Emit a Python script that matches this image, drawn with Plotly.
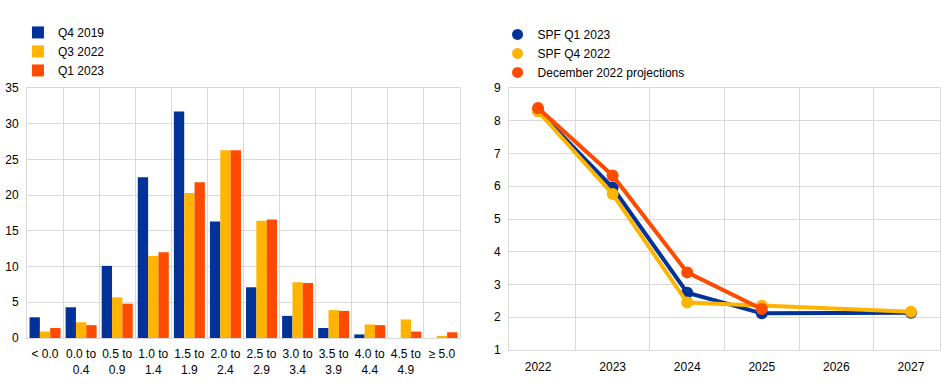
import plotly.graph_objects as go

bins = ["< 0.0", "0.0 to<br>0.4", "0.5 to<br>0.9", "1.0 to<br>1.4", "1.5 to<br>1.9", "2.0 to<br>2.4",
        "2.5 to<br>2.9", "3.0 to<br>3.4", "3.5 to<br>3.9", "4.0 to<br>4.4", "4.5 to<br>4.9", "≥ 5.0"]
q4_2019 = [2.9, 4.3, 10.1, 22.5, 31.7, 16.3, 7.1, 3.1, 1.4, 0.5, 0.0, 0.0]
q3_2022 = [0.9, 2.2, 5.7, 11.5, 20.3, 26.3, 16.4, 7.8, 3.9, 1.9, 2.6, 0.3]
q1_2023 = [1.4, 1.8, 4.8, 12.0, 21.8, 26.3, 16.6, 7.7, 3.8, 1.8, 0.9, 0.8]

years = ["2022", "2023", "2024", "2025", "2026", "2027"]
spf_q1_2023 = [8.3, 5.96, 2.75, 2.12, None, 2.14]
spf_q4_2022 = [8.29, 5.76, 2.45, 2.35, None, 2.17]
dec_2022_proj = [8.39, 6.33, 3.37, 2.25, None, None]

BLUE = "#003299"
YELLOW = "#FFB400"
ORANGE = "#FF4B00"
GRID = "#d9d9d9"
FONT = dict(family="Liberation Sans, Arial, sans-serif", size=12, color="#000000")

fig = go.Figure()
for name, vals, col in [("Q4 2019", q4_2019, BLUE), ("Q3 2022", q3_2022, YELLOW), ("Q1 2023", q1_2023, ORANGE)]:
    fig.add_trace(go.Bar(x=bins, y=vals, name=name, marker=dict(color=col, line=dict(width=0)),
                         xaxis="x", yaxis="y", legend="legend"))

for name, vals, col in [("SPF Q1 2023", spf_q1_2023, BLUE), ("SPF Q4 2022", spf_q4_2022, YELLOW),
                        ("December 2022 projections", dec_2022_proj, ORANGE)]:
    fig.add_trace(go.Scatter(x=years, y=vals, name=name, mode="lines+markers", connectgaps=True,
                             line=dict(color=col, width=4), marker=dict(color=col, size=12),
                             xaxis="x2", yaxis="y2", showlegend=False))
    # legend entry showing only the circle marker
    fig.add_trace(go.Scatter(x=[None], y=[None], name=name, mode="markers",
                             marker=dict(color=col, size=11), xaxis="x2", yaxis="y2", legend="legend2"))

axis_common = dict(showline=True, linecolor=GRID, linewidth=1, mirror=True, gridcolor=GRID, gridwidth=1,
                   zeroline=False, ticks="", tickfont=FONT, automargin=False, tickangle=0)

fig.update_layout(
    width=945, height=390,
    margin=dict(l=0, r=0, t=0, b=0),
    paper_bgcolor="white", plot_bgcolor="white",
    font=FONT,
    barmode="group", bargap=0.14, bargroupgap=0,
    xaxis=dict(domain=[27/945, 460/945], type="category", tickson="boundaries", showgrid=True, anchor="y",
               ticklabelstandoff=5, **axis_common),
    yaxis=dict(domain=[52/390, 302/390], range=[0, 35], dtick=5, showgrid=True, anchor="x",
               ticklabelstandoff=5, **axis_common),
    xaxis2=dict(domain=[509/945, 940/945], type="category", tickson="boundaries", showgrid=True, anchor="y2",
                ticklabelstandoff=6, **axis_common),
    yaxis2=dict(domain=[40/390, 302/390], range=[1, 9], dtick=1, showgrid=True, anchor="x2",
                ticklabelstandoff=5, **axis_common),
    legend=dict(x=0.019, y=0.954, xanchor="left", yanchor="top", bgcolor="rgba(0,0,0,0)",
                font=FONT, tracegroupgap=0),
    legend2=dict(x=0.5265, y=0.949, xanchor="left", yanchor="top", bgcolor="rgba(0,0,0,0)",
                 font=FONT, tracegroupgap=0),
)

fig.write_html("out.html", config={"displayModeBar": False},
               post_script="document.body.style.margin='0';")
